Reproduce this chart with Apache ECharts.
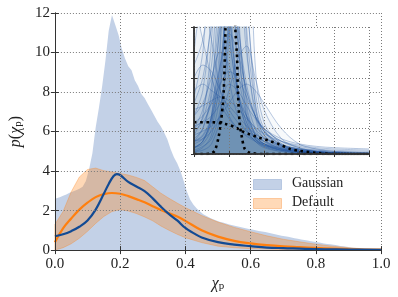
<!DOCTYPE html>
<html><head><meta charset="utf-8">
<script src="https://cdn.jsdelivr.net/npm/echarts@6/dist/echarts.min.js"></script>
<style>html,body{margin:0;padding:0;background:#fff}#c{width:398px;height:297px}</style>
</head><body><div id="c"></div>
<script>
// ---------- data ----------
const xTicks = [0, 0.2, 0.4, 0.6, 0.8, 1.0];
const yTicks = [0, 2, 4, 6, 8, 10, 12];
const histBinWidth = 0.01;
const histHeights = [2.6,2.68,2.75,2.82,2.9,2.97,3.03,3.1,3.2,3.5,
 4.1,4.9,6.2,7.2,8.3,9.6,11.1,11.9,11.4,10.9,
 10.2,9.7,9.3,9.1,8.6,8.3,7.9,7.7,7.4,7.1,
 6.8,6.5,6.25,5.95,5.6,5.1,4.7,4.4,4.0,3.5,
 2.95,2.55,2.3,2.1,1.95,1.82,1.72,1.64,1.56,1.5,
 1.44,1.4,1.35,1.3,1.26,1.22,1.18,1.14,1.1,1.07,
 1.04,1.0,0.97,0.94,0.91,0.88,0.84,0.8,0.77,0.73,
 0.7,0.67,0.64,0.6,0.57,0.54,0.51,0.48,0.45,0.42,
 0.4,0.37,0.34,0.31,0.29,0.27,0.24,0.21,0.19,0.17,
 0.15,0.12,0.1,0.07,0.04,0.02,0.01,0,0,0];
const bandX = [0,0.025,0.05,0.075,0.1,0.125,0.15,0.175,0.2,0.225,0.25,0.275,0.3,0.325,0.35,0.375,0.4,0.45,0.5,0.55,0.6,0.65,0.7,0.75,0.8,0.85,0.9,0.95,1.0];
const defaultLow = [0,0.12,0.32,0.6,0.95,1.35,1.7,1.95,2.05,1.98,1.85,1.68,1.48,1.22,1.0,0.8,0.63,0.38,0.2,0.12,0.07,0.05,0.03,0.02,0.01,0,0,0,0];
const defaultHigh = [1.3,1.95,2.95,3.7,4.08,4.15,4.02,3.95,3.88,3.8,3.68,3.52,3.2,2.88,2.62,2.38,2.15,1.75,1.42,1.15,0.93,0.72,0.55,0.42,0.3,0.2,0.12,0.06,0.02];
const defaultMedian = [0.4,1.1,1.6,2.05,2.4,2.68,2.83,2.89,2.85,2.73,2.58,2.42,2.22,2.03,1.86,1.7,1.48,1.0,0.68,0.47,0.34,0.25,0.19,0.15,0.11,0.08,0.05,0.03,0.02];
const gaussX = [0,0.025,0.05,0.075,0.1,0.125,0.15,0.165,0.18,0.19,0.2,0.225,0.25,0.275,0.3,0.325,0.35,0.375,0.4,0.425,0.45,0.5,0.55,0.6,0.65,0.7,0.8,0.9,1.0];
const gaussMedian = [0.7,0.8,0.96,1.18,1.5,2.05,2.85,3.35,3.75,3.85,3.8,3.45,3.22,2.98,2.62,2.2,1.82,1.5,1.12,0.86,0.64,0.4,0.28,0.2,0.13,0.1,0.05,0.03,0.01];

// inset
const insetX = [0,0.05,0.1,0.15,0.2,0.25,0.3,0.35,0.4,0.5,0.6,0.7,0.8,1.0];
const insetDraws = [
 [0.05,0.1,0.3,0.9,2.5,1.2,0.4,0.15,0.08,0.03,0.01,0,0,0],
 [0.1,0.2,0.5,1.4,1.8,0.7,0.3,0.15,0.08,0.04,0.02,0.01,0,0],
 [0.2,0.35,0.7,1.5,1.1,0.5,0.25,0.12,0.07,0.03,0.02,0.01,0,0],
 [0.02,0.05,0.15,0.5,1.6,2.8,0.9,0.3,0.12,0.04,0.02,0.01,0,0],
 [0.3,0.4,0.6,0.8,0.7,0.45,0.3,0.2,0.13,0.07,0.04,0.02,0.01,0],
 [0.5,0.55,0.5,0.45,0.38,0.3,0.22,0.16,0.12,0.07,0.04,0.02,0.01,0],
 [0.15,0.3,0.9,2.2,1.3,0.5,0.2,0.1,0.05,0.02,0.01,0,0,0],
 [0.05,0.08,0.2,0.6,1.3,1.5,0.8,0.35,0.18,0.07,0.03,0.02,0.01,0],
 [0.8,1.2,0.9,0.5,0.3,0.2,0.14,0.1,0.07,0.04,0.02,0.01,0.01,0],
 [0.25,0.3,0.4,0.55,0.65,0.6,0.45,0.3,0.2,0.1,0.05,0.03,0.02,0.01],
 [0.1,0.15,0.3,0.7,1.2,0.9,0.5,0.3,0.2,0.1,0.06,0.04,0.03,0.02],
 [0.02,0.03,0.08,0.3,1.1,3.0,1.4,0.4,0.15,0.05,0.02,0.01,0,0],
 [0.4,0.6,1.0,1.3,0.9,0.5,0.3,0.17,0.1,0.05,0.03,0.02,0.01,0],
 [0.6,0.7,0.65,0.5,0.35,0.25,0.18,0.13,0.1,0.06,0.04,0.03,0.02,0.01],
 [0.05,0.1,0.25,0.8,3.5,1.0,0.3,0.12,0.06,0.02,0.01,0,0,0],
 [0.18,0.25,0.4,0.7,0.95,0.8,0.5,0.3,0.18,0.08,0.04,0.02,0.01,0],
 [0.3,0.5,1.1,1.9,1.0,0.45,0.22,0.12,0.07,0.03,0.02,0.01,0,0],
 [0.1,0.12,0.18,0.3,0.5,0.75,0.85,0.6,0.35,0.12,0.05,0.02,0.01,0],
 [1.2,0.9,0.6,0.4,0.28,0.2,0.15,0.11,0.08,0.05,0.03,0.02,0.01,0],
 [0.05,0.1,0.3,1.1,2.0,1.1,0.45,0.2,0.1,0.04,0.02,0.01,0,0],
 [0.35,0.38,0.42,0.45,0.42,0.36,0.28,0.21,0.16,0.1,0.07,0.05,0.04,0.03],
 [0.08,0.12,0.25,0.55,1.0,1.7,1.2,0.5,0.2,0.07,0.03,0.01,0,0],
 [0.2,0.28,0.55,1.2,2.6,0.9,0.35,0.15,0.08,0.03,0.01,0,0,0],
 [0.12,0.2,0.45,1.0,1.4,1.0,0.55,0.3,0.15,0.06,0.03,0.02,0.01,0],
 [0.15,0.18,0.22,0.3,0.4,0.5,0.55,0.5,0.4,0.2,0.08,0.04,0.02,0.01],
 [0.45,0.8,1.6,1.2,0.6,0.3,0.18,0.1,0.06,0.03,0.02,0.01,0,0],
 [0.03,0.06,0.12,0.35,0.9,2.0,2.2,0.7,0.25,0.08,0.03,0.01,0,0],
 [0.22,0.25,0.3,0.4,0.55,0.5,0.38,0.28,0.2,0.12,0.08,0.06,0.05,0.04],
 [0.7,0.9,1.4,2.4,1.2,0.5,0.25,0.13,0.08,0.04,0.02,0.01,0,0],
 [0.1,0.14,0.28,0.65,1.5,2.2,1.0,0.4,0.18,0.06,0.03,0.01,0.01,0]
];
const narrowX = [0,0.05,0.1,0.12,0.14,0.155,0.17,0.18,0.19,0.21,0.225,0.236,0.246,0.251,0.261,0.274,0.29,0.32,0.4,1.0];
const narrowY = [0,0,0.005,0.03,0.13,0.26,0.5,1.0,1.8,3.0,1.8,1.0,0.76,0.5,0.24,0.13,0.04,0.01,0,0];
const broadX = [0,0.1,0.18,0.236,0.274,0.313,0.37,0.427,0.484,0.549,0.606,0.703,0.794,1.0];
const broadY = [0.25,0.25,0.236,0.21,0.18,0.157,0.13,0.105,0.079,0.04,0.024,0.008,0,0];

// ---------- build ----------
const zip = (xs, ys) => xs.map((x, i) => [x, ys[i]]);
const histData = histHeights.map((h, i) => [+((i + 0.5) * histBinWidth).toFixed(3), h]);
histData.unshift([0, histHeights[0]]);
histData.push([1.0, 0]);

const SERIF = 'Liberation Serif';
const DOT = { type: [1, 2], color: '#7a7a7a', width: 1 };
const frame = { show: true, lineStyle: { color: '#333', width: 1 } };

function mainX(pos, labels) {
  return {
    type: 'value', gridIndex: 0, position: pos, min: 0, max: 1, interval: 0.2, z: 5,
    axisLine: frame, axisTick: { show: true, inside: true, length: 4, lineStyle: { color: '#333' } },
    axisLabel: labels ? { show: true, margin: 6, fontFamily: SERIF, fontSize: 15, color: '#222', formatter: v => v.toFixed(1) } : { show: false },
    splitLine: labels ? { show: true, lineStyle: DOT } : { show: false },
    name: labels ? '{c|χ}{s|p}' : '', nameLocation: 'middle', nameGap: 24,
    nameTextStyle: { rich: {
      c: { fontFamily: SERIF, fontStyle: 'italic', fontSize: 16, color: '#222', lineHeight: 16, verticalAlign: 'middle' },
      s: { fontFamily: SERIF, fontSize: 11, color: '#222', lineHeight: 8, verticalAlign: 'bottom' } } }
  };
}
function mainY(pos, labels) {
  return {
    type: 'value', gridIndex: 0, position: pos, min: 0, max: 12, interval: 2, z: 5,
    axisLine: frame, axisTick: { show: true, inside: true, length: 4, lineStyle: { color: '#333' } },
    axisLabel: labels ? { show: true, margin: 5, fontFamily: SERIF, fontSize: 15, color: '#222' } : { show: false },
    splitLine: labels ? { show: true, lineStyle: DOT } : { show: false },
    name: labels ? '{i|p}{n|(}{c|χ}{s|p}{n|)}' : '', nameLocation: 'middle', nameGap: 22,
    nameTextStyle: { rich: {
      i: { fontFamily: SERIF, fontStyle: 'italic', fontSize: 16, color: '#222', lineHeight: 16, verticalAlign: 'middle' },
      n: { fontFamily: SERIF, fontSize: 16, color: '#222', lineHeight: 16, verticalAlign: 'middle' },
      c: { fontFamily: SERIF, fontStyle: 'italic', fontSize: 16, color: '#222', lineHeight: 16, verticalAlign: 'middle' },
      s: { fontFamily: SERIF, fontSize: 11, color: '#222', lineHeight: 8, verticalAlign: 'bottom' } } }
  };
}
function insetAxis(pos, grid) {
  return {
    type: 'value', gridIndex: 1, position: pos, min: 0, max: 1, interval: 0.2, z: 14,
    axisLine: { show: true, lineStyle: { color: '#333', width: 1.5 } },
    axisTick: { show: true, inside: true, length: 3, lineStyle: { color: '#333' } },
    axisLabel: { show: false },
    splitLine: grid ? { show: true, lineStyle: DOT } : { show: false }
  };
}

const series = [
  { name: 'Gaussian', type: 'line', xAxisIndex: 0, yAxisIndex: 0, data: histData,
    symbol: 'none', lineStyle: { width: 0 }, areaStyle: { color: '#c3d1e7', opacity: 1 }, z: 2 },
  { name: 'Default', type: 'custom', xAxisIndex: 0, yAxisIndex: 0, data: [0], z: 3,
    renderItem: function (params, api) {
      const up = bandX.map((x, i) => api.coord([x, defaultHigh[i]]));
      const lo = bandX.map((x, i) => api.coord([x, defaultLow[i]])).reverse();
      return { type: 'polygon', shape: { points: up.concat(lo) },
        style: { fill: 'rgba(255,127,14,0.3)', stroke: 'rgba(255,127,14,0.3)', lineWidth: 1 } };
    } },
  { type: 'line', xAxisIndex: 0, yAxisIndex: 0, data: zip(bandX, defaultMedian), symbol: 'none', smooth: 0.4,
    lineStyle: { width: 2.2, color: '#ff7f0e' }, z: 4 },
  { type: 'line', xAxisIndex: 0, yAxisIndex: 0, data: zip(gaussX, gaussMedian), symbol: 'none', smooth: 0.4,
    lineStyle: { width: 2.2, color: '#124a94' }, z: 4 }
];
insetDraws.forEach(d => series.push({
  type: 'line', xAxisIndex: 2, yAxisIndex: 2, data: zip(insetX, d), symbol: 'none', smooth: 0.35, clip: true,
  lineStyle: { width: 0.8, color: 'rgba(35,85,160,0.4)' }, areaStyle: { color: 'rgb(60,105,170)', opacity: 0.045 }, z: 12, silent: true
}));
series.push({ type: 'line', xAxisIndex: 2, yAxisIndex: 2, data: zip(narrowX, narrowY), symbol: 'none', smooth: 0.3, clip: true,
  lineStyle: { width: 2.6, color: '#000', type: [2.6, 3.6] }, z: 13 });
series.push({ type: 'line', xAxisIndex: 2, yAxisIndex: 2, data: zip(broadX, broadY), symbol: 'none', smooth: 0.3, clip: true,
  lineStyle: { width: 2.6, color: '#000', type: [2.6, 3.6] }, z: 13 });

const chart = echarts.init(document.getElementById('c'), null, { renderer: 'canvas' });
chart.setOption({
  animation: false,
  backgroundColor: '#fff',
  grid: [
    { left: 48, top: 13, width: 333, height: 240, containLabel: false },
    { left: 194, top: 27, width: 175, height: 127, show: true, backgroundColor: '#fff', borderWidth: 0, z: 10 }
  ],
  xAxis: [mainX('bottom', true), mainX('top', false), insetAxis('bottom', true), insetAxis('top', false)],
  yAxis: [mainY('left', true), mainY('right', false), insetAxis('left', true), insetAxis('right', false)],
  series: series,
  graphic: [
    { type: 'rect', left: 253, top: 179, shape: { width: 28, height: 10 }, style: { fill: '#c3d1e7', stroke: '#b7c8e2', lineWidth: 1 }, z: 20 },
    { type: 'text', left: 292, top: 176, style: { text: 'Gaussian', font: '14px "Liberation Serif", serif', fill: '#222' }, z: 20 },
    { type: 'rect', left: 253, top: 198, shape: { width: 28, height: 10 }, style: { fill: '#ffd9b7', stroke: '#fdc79a', lineWidth: 1 }, z: 20 },
    { type: 'text', left: 292, top: 195, style: { text: 'Default', font: '14px "Liberation Serif", serif', fill: '#222' }, z: 20 }
  ]
});
</script></body></html>
